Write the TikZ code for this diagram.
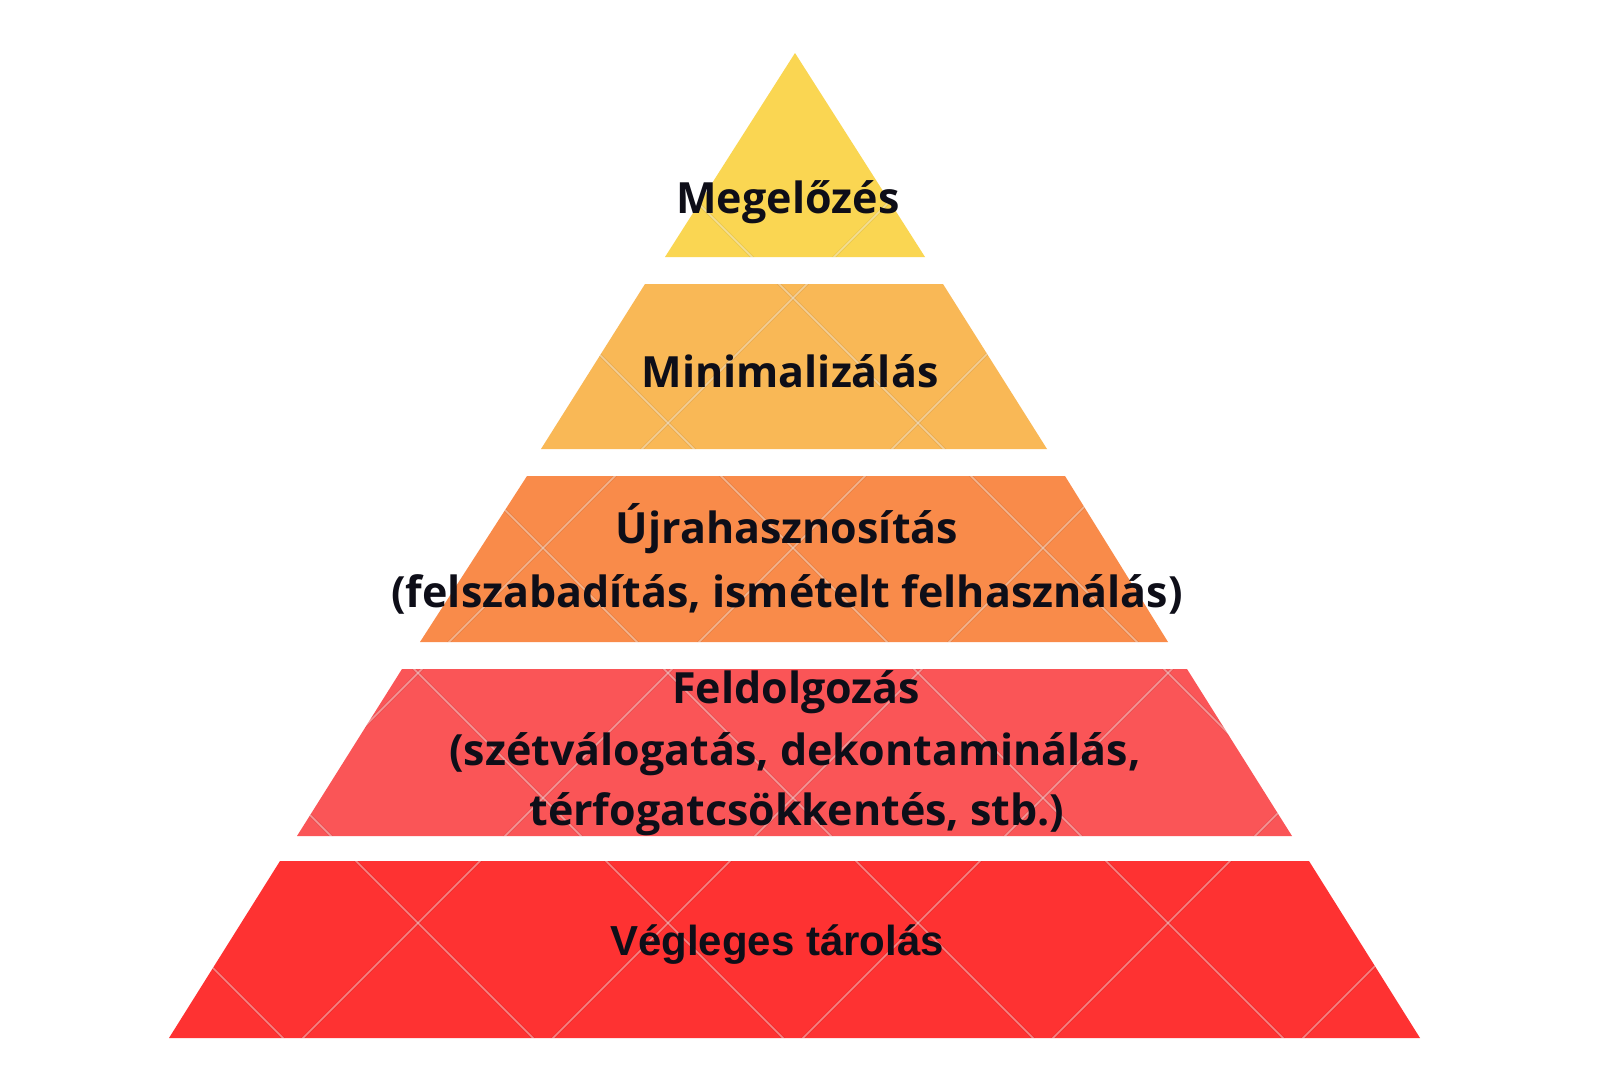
\documentclass[tikz,border=0pt]{standalone}
\usepackage{fontspec}
\setmainfont{Open Sans}[UprightFont=* Bold]
\newfontfamily\arialb{Liberation Sans}[UprightFont=* Bold]
\definecolor{cA}{HTML}{FAD652}
\definecolor{cB}{HTML}{F9B856}
\definecolor{cC}{HTML}{F98B4A}
\definecolor{cD}{HTML}{FA5557}
\definecolor{cE}{HTML}{FE3232}
\definecolor{txt}{HTML}{0E0E18}
\tikzset{
  lbl/.style={anchor=base, inner sep=0pt, text=txt, font=\fontsize{21.5}{26}\selectfont},
  lblb/.style={anchor=base, inner sep=0pt, text=txt, font=\arialb\fontsize{21}{25}\selectfont},
  latdark/.style={draw=black, draw opacity=0.06, line width=1.6pt},
  latlight/.style={draw=white, draw opacity=0.40, line width=0.8pt},
}
\newcommand{\lattice}{%
  \foreach \c in {-1005,-755,...,1745} {
    \draw[latdark] (\c,0) -- ({\c+1066},1066);
    \draw[latlight] (\c,0) -- ({\c+1066},1066);
  }
  \foreach \d in {91,341,...,2591} {
    \draw[latdark] (\d,0) -- ({\d-1066},1066);
    \draw[latlight] (\d,0) -- ({\d-1066},1066);
  }
}
\begin{document}
\begin{tikzpicture}[x=0.5pt,y=-0.5pt]
\useasboundingbox (0,0) rectangle (1600,1066);
\fill[white] (0,0) rectangle (1600,1066);
% tiers
\begin{scope}
  \fill[cA] (795,53) -- (925,257) -- (665,257) -- cycle;
  \clip (795,53) -- (925,257) -- (665,257) -- cycle;
  \lattice
\end{scope}
\begin{scope}
  \fill[cB] (645,284) -- (943,284) -- (1047,449) -- (541,449) -- cycle;
  \clip (645,284) -- (943,284) -- (1047,449) -- (541,449) -- cycle;
  \lattice
\end{scope}
\begin{scope}
  \fill[cC] (527,476) -- (1065,476) -- (1168,642) -- (420,642) -- cycle;
  \clip (527,476) -- (1065,476) -- (1168,642) -- (420,642) -- cycle;
  \lattice
\end{scope}
\begin{scope}
  \fill[cD] (402,669) -- (1187,669) -- (1292,836) -- (297,836) -- cycle;
  \clip (402,669) -- (1187,669) -- (1292,836) -- (297,836) -- cycle;
  \lattice
\end{scope}
\begin{scope}
  \fill[cE] (280,861) -- (1309,861) -- (1420,1038) -- (169,1038) -- cycle;
  \clip (280,861) -- (1309,861) -- (1420,1038) -- (169,1038) -- cycle;
  \lattice
\end{scope}
% labels
\node[lbl] (t1) at (788,213) {Megelőzés};
\node[lbl] (t2) at (790,387) {Minimalizálás};
\node[lbl] (t3a) at (787,543) {Újrahasznosítás};
\node[lbl] (t3b) at (787,607) {(felszabadítás, ismételt felhasználás)};
\node[lbl] (t4a) at (796,703) {Feldolgozás};
\node[lbl] (t4b) at (795,765) {(szétválogatás, dekontaminálás,};
\node[lbl] (t4c) at (797,825) {térfogatcsökkentés, stb.)};
\node[lblb] (t5) at (777,955) {Végleges tárolás};
\end{tikzpicture}
\end{document}
